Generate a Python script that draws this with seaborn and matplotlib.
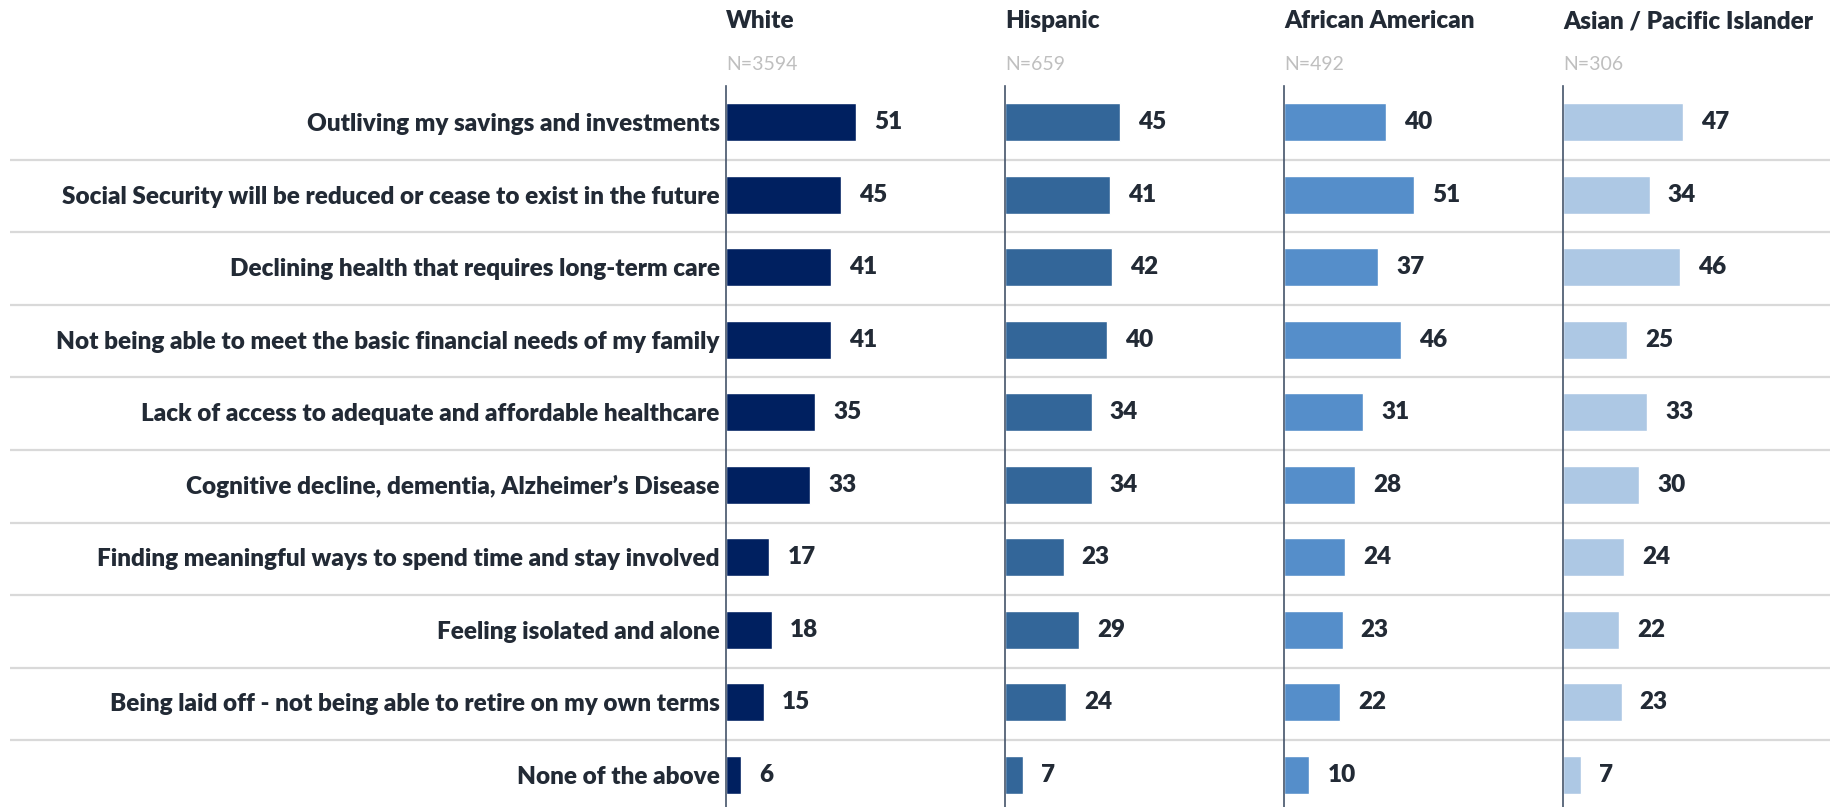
import numpy as np
import pandas as pd
import matplotlib
matplotlib.use("Agg")
import matplotlib.pyplot as plt
import seaborn as sns

concerns = [
    "Outliving my savings and investments",
    "Social Security will be reduced or cease to exist in the future",
    "Declining health that requires long-term care",
    "Not being able to meet the basic financial needs of my family",
    "Lack of access to adequate and affordable healthcare",
    "Cognitive decline, dementia, Alzheimer\u2019s Disease",
    "Finding meaningful ways to spend time and stay involved",
    "Feeling isolated and alone",
    "Being laid off - not being able to retire on my own terms",
    "None of the above",
]
groups = ["White", "Hispanic", "African American", "Asian / Pacific Islander"]
sample_sizes = ["N=3594", "N=659", "N=492", "N=306"]
white = [51, 45, 41, 41, 35, 33, 17, 18, 15, 6]
hispanic = [45, 41, 42, 40, 34, 34, 23, 29, 24, 7]
african_american = [40, 51, 37, 46, 31, 28, 24, 23, 22, 10]
asian_pi = [47, 34, 46, 25, 33, 30, 24, 22, 23, 7]
colors = ["#002060", "#336699", "#558ECA", "#ADC8E4"]

sns.set_style("white")
plt.rcParams["font.family"] = ["Lato", "DejaVu Sans"]
text_color = "#222a35"
heavy = "heavy"

W, H = 1831, 807
fig = plt.figure(figsize=(W / 100, H / 100), dpi=100)

# pixel layout
top_px, row0_px, row_step = 86, 122, 72.56
col_left = [726, 1005, 1284, 1563]
col_w = 279
px_per_unit = 2.55
y_lo = (top_px - row0_px) / row_step
y_hi = (H - row0_px) / row_step
ax_h = (H - top_px) / H

# background axis for row separators
bg = fig.add_axes([10 / W, 0, 1 - 10 / W, ax_h])
bg.set_ylim(y_hi, y_lo)
bg.set_xlim(0, 1)
for i in range(len(concerns) - 1):
    bg.axhline(i + 0.52, color="#D9D9D9", lw=1.6)
bg.axis("off")

series = [white, hispanic, african_american, asian_pi]
for k, (grp, vals) in enumerate(zip(groups, series)):
    width_px = min(col_w, W - col_left[k])
    ax = fig.add_axes([col_left[k] / W, 0, width_px / W, ax_h])
    ax.patch.set_alpha(0)
    df = pd.DataFrame({"concern": concerns, "pct": vals})
    sns.barplot(data=df, x="pct", y="concern", orient="h", color=colors[k],
                width=0.524, saturation=1, ax=ax)
    ax.set_xlim(0, width_px / px_per_unit)
    ax.set_ylim(y_hi, y_lo)
    ax.bar_label(ax.containers[0], padding=13, fontsize=17.5, fontweight=heavy,
                 color=text_color)
    ax.set_xlabel("")
    ax.set_ylabel("")
    ax.set_xticks([])
    for s in ["top", "right", "bottom"]:
        ax.spines[s].set_visible(False)
    ax.spines["left"].set_color("#44546A")
    ax.spines["left"].set_linewidth(1.2)
    if k == 0:
        ax.tick_params(axis="y", length=0, pad=4.5)
        for lab in ax.get_yticklabels():
            lab.set_fontsize(17.5)
            lab.set_fontweight(heavy)
            lab.set_color(text_color)
    else:
        ax.set_yticks([])
    fig.text(col_left[k] / W, 1 - 21.5 / H, grp, fontsize=17.5, fontweight=heavy,
             color=text_color, ha="left", va="center")
    fig.text(col_left[k] / W, 1 - 64 / H, sample_sizes[k], fontsize=14,
             color="#BFBFBF", ha="left", va="center")

fig.savefig("out.png", dpi=100)
